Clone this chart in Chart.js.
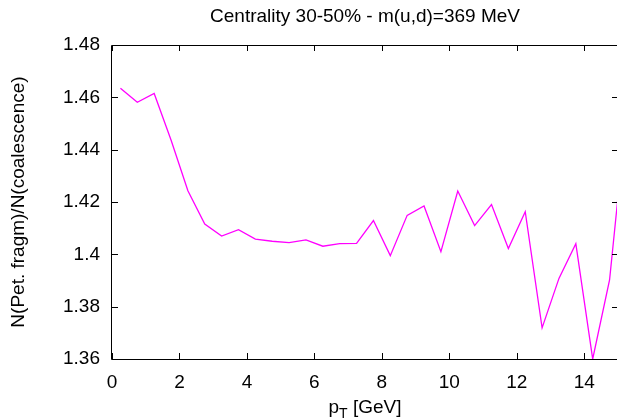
<!DOCTYPE html>
<html>
<head>
<meta charset="utf-8">
<script src="https://cdn.jsdelivr.net/npm/chart.js@4/dist/chart.umd.min.js"></script>
<style>
html,body{margin:0;padding:0;overflow:hidden;background:#fff;}
#wrap{width:618px;height:420px;}
</style>
</head>
<body>
<div id="wrap"><canvas id="c" width="618" height="420"></canvas></div>
<script>
const titleText = "Centrality 30-50% - m(u,d)=369 MeV";
const yTitle = "N(Pet. fragm)/N(coalescence)";
const pT = [0.25,0.75,1.25,1.75,2.25,2.75,3.25,3.75,4.25,4.75,5.25,5.75,6.25,6.75,7.25,7.75,8.25,8.75,9.25,9.75,10.25,10.75,11.25,11.75,12.25,12.75,13.25,13.75,14.25,14.75,15.25];
const ratio = [1.4635,1.4581,1.4615,1.4437,1.4243,1.4116,1.4070,1.4094,1.4058,1.4050,1.4045,1.4055,1.4031,1.4041,1.4042,1.4129,1.3995,1.4149,1.4185,1.4010,1.4242,1.4110,1.4190,1.4022,1.4163,1.3719,1.3908,1.4041,1.3600,1.3902,1.4537];
const xTicks = [0,2,4,6,8,10,12,14];
const yTicks = [1.36,1.38,1.40,1.42,1.44,1.46,1.48];

const FONT = "'Liberation Sans', Arial, sans-serif";
const FS = 19;

const framePlugin = {
  id: 'frame',
  afterDraw(chart) {
    const {ctx, chartArea: a, scales} = chart;
    ctx.save();
    ctx.strokeStyle = '#000';
    ctx.lineWidth = 1;
    const L = 6;
    ctx.beginPath();
    xTicks.forEach(v => {
      const px = Math.round(scales.x.getPixelForValue(v)) + 0.5;
      ctx.moveTo(px, a.bottom); ctx.lineTo(px, a.bottom - L);
      ctx.moveTo(px, a.top); ctx.lineTo(px, a.top + L);
    });
    yTicks.forEach(v => {
      const py = Math.round(scales.y.getPixelForValue(v)) + 0.5;
      ctx.moveTo(a.left, py); ctx.lineTo(a.left + L, py);
      ctx.moveTo(a.right, py); ctx.lineTo(a.right - L, py);
    });
    ctx.stroke();
    ctx.beginPath();
    ctx.rect(Math.round(a.left) - 0.5, Math.round(a.top) + 0.5, Math.round(a.right - a.left), Math.round(a.bottom - a.top));
    ctx.stroke();
    // x axis title with subscript
    const cx = (a.left + a.right) / 2;
    const base = 413;
    ctx.fillStyle = '#000';
    ctx.textBaseline = 'alphabetic';
    ctx.font = FS + 'px ' + FONT;
    const wp = ctx.measureText('p').width;
    const wr = ctx.measureText(' [GeV]').width;
    ctx.font = '14px ' + FONT;
    const wt = ctx.measureText('T').width;
    let x0 = cx - (wp + wt + wr) / 2;
    ctx.font = FS + 'px ' + FONT;
    ctx.fillText('p', x0, base);
    ctx.font = '14px ' + FONT;
    ctx.fillText('T', x0 + wp, base + 5);
    ctx.font = FS + 'px ' + FONT;
    ctx.fillText(' [GeV]', x0 + wp + wt, base);
    ctx.restore();
  }
};

new Chart(document.getElementById('c'), {
  type: 'line',
  data: {
    datasets: [{
      data: pT.map((x, i) => ({x: x, y: ratio[i]})),
      borderColor: '#ff00ff',
      borderWidth: 1.3,
      pointRadius: 0,
      tension: 0,
      fill: false
    }]
  },
  options: {
    responsive: false,
    animation: false,
    devicePixelRatio: 1,
    layout: {padding: 0},
    plugins: {
      legend: {display: false},
      tooltip: {enabled: false},
      title: {
        display: true,
        text: titleText,
        fullSize: false,
        color: '#000',
        font: {family: FONT, size: FS, weight: 'normal'},
        padding: {top: 5, bottom: 17.2}
      }
    },
    scales: {
      x: {
        type: 'linear',
        min: 0, max: 15,
        border: {display: false},
        grid: {display: false, drawTicks: false},
        afterFit(s) { s.height = 61; },
        afterBuildTicks(s) { s.ticks = xTicks.map(v => ({value: v})); },
        ticks: {
          color: '#000',
          font: {family: FONT, size: FS},
          padding: 12,
          maxRotation: 0,
          includeBounds: false,
          callback: v => String(v)
        }
      },
      y: {
        type: 'linear',
        min: 1.36, max: 1.48,
        border: {display: false},
        grid: {display: false, drawTicks: false},
        afterFit(s) { s.width = 112; },
        afterBuildTicks(s) { s.ticks = yTicks.map(v => ({value: v})); },
        ticks: {
          color: '#000',
          font: {family: FONT, size: FS},
          padding: 12,
          callback: v => String(Number(v.toFixed(2)))
        },
        title: {
          display: true,
          text: yTitle,
          color: '#000',
          font: {family: FONT, size: FS},
          padding: {top: 7, bottom: 0}
        }
      }
    }
  },
  plugins: [framePlugin]
});
</script>
</body>
</html>
